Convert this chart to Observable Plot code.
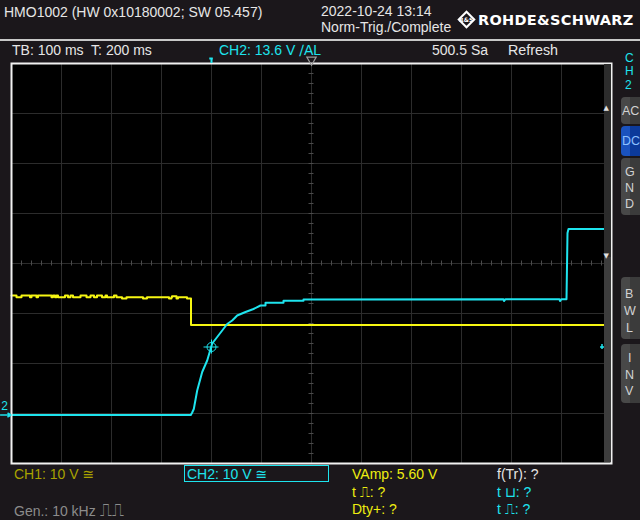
<!DOCTYPE html>
<html>
<head>
<meta charset="utf-8">
<script src="https://cdn.jsdelivr.net/npm/d3@7"></script>
<script src="https://cdn.jsdelivr.net/npm/@observablehq/plot@0.6"></script>
<style>
  html, body { margin: 0; padding: 0; background: #1b171b; }
  #scope { position: relative; width: 640px; height: 520px; background: #1b171b; overflow: hidden;
           font-family: "Liberation Sans", Arial, sans-serif; }
  #scope .t { position: absolute; white-space: pre; line-height: 1; }
  #scope .sym { font-family: "DejaVu Sans", sans-serif; }
  #scope .btn { position: absolute; left: 621px; width: 30px; border-radius: 4px 0 0 4px;
                background: linear-gradient(to right, #484848 0 9px, #3b3b3b 9px); color: #d2d2d2;
                font-size: 12.5px; line-height: 1; }
  #scope .btn span { position: absolute; white-space: pre; }
  #plotwrap { position: absolute; left: 0; top: 0; }
</style>
</head>
<body>
<div id="scope">
  <div id="plotwrap"></div>
</div>
<script>
// ---------- data (time in ms relative to trigger, voltage in V) ----------
const CH1_T = [-400,-390,-380,-363,-360,-350,-347,-320,-317,-313,-310,-307,-293,-287,-282,-277,-262,-250,-242,-235,-229,-219,-212,-209,-195,-190,-179,-170,-137,-129,-85,-80,-79,-70,-67,-49,-41,786];
const CH1_V = [23.9,23.56,23.9,23.56,23.9,23.56,23.9,23.56,23.9,23.56,23.9,23.56,23.9,23.56,23.9,23.56,23.9,23.56,23.9,23.56,23.9,23.56,23.9,23.56,23.9,23.56,23.3,23.56,23.3,23.56,23.3,23.56,23.76,23.3,23.56,23.3,18.0,18.0];

const CH2_T = [-400,-41.4,-38.6,-35.4,-28.6,-18.6,-8.6,1.4,11.4,21.4,31.4,41.4,51.4,68,84,98,108,108,144,144,184,184,584,585,588,696,697,700,710,712,714,786];
const CH2_V = [0,0,0.5,1.2,4.9,8.6,10.9,14.3,15.6,16.9,18.2,18.9,19.9,20.6,21.2,21.9,21.9,22.44,22.44,22.84,22.84,23.1,23.16,22.8,23.16,23.16,22.8,23.16,23.16,36.4,37.2,37.2];

const TRIGGER_T = 0;        // trigger position
const TRIGGER_LEVEL = 13.6; // CH2 trigger level, V
const TIME_DOMAIN = [-400, 800];   // 12 div x 100 ms
const VOLT_DOMAIN = [-9.7, 70.3];  // 8 div x 10 V
const GRID_T = [-300,-200,-100,0,100,200,300,400,500,600,700];
const GRID_V = [0.3,10.3,20.3,30.3,40.3,50.3,60.3];
const CENTER_T = 200, CENTER_V = 30.3;
const SUBTICK_T = d3.range(-400, 801, 20);
const SUBTICK_V = d3.range(-9.7, 70.31, 2);

const ch1 = CH1_T.map((t, i) => ({t, v: CH1_V[i]}));
const ch2 = CH2_T.map((t, i) => ({t, v: CH2_V[i]}));

const CYAN = "#1ee4ee", YELLOW = "#f6f612";

const plot = Plot.plot({
  width: 640, height: 520,
  marginLeft: 11, marginRight: 29, marginTop: 63, marginBottom: 57,
  x: {domain: TIME_DOMAIN, axis: null},
  y: {domain: VOLT_DOMAIN, axis: null},
  style: {background: "transparent", overflow: "visible"},
  marks: [
    Plot.frame({fill: "#000"}),
    Plot.ruleX(GRID_T, {stroke: "#2c2c2c", strokeWidth: 1}),
    Plot.ruleY(GRID_V, {stroke: "#2c2c2c", strokeWidth: 1}),
    Plot.ruleX(SUBTICK_T, {y1: CENTER_V - 0.5, y2: CENTER_V + 0.5, stroke: "#4a4a4a"}),
    Plot.ruleY(SUBTICK_V, {x1: CENTER_T - 5, x2: CENTER_T + 5, stroke: "#4a4a4a"}),
    Plot.line(ch1, {x: "t", y: "v", stroke: YELLOW, strokeWidth: 2, curve: "step-after"}),
    Plot.line(ch2, {x: "t", y: "v", stroke: CYAN, strokeWidth: 2, curve: "linear"}),
    // trigger crosshair
    Plot.dot([{t: TRIGGER_T, v: TRIGGER_LEVEL}], {x: "t", y: "v", r: 4.5, stroke: CYAN, strokeWidth: 1}),
    Plot.ruleY([TRIGGER_LEVEL], {x1: TRIGGER_T - 15, x2: TRIGGER_T + 15, stroke: CYAN, strokeWidth: 1}),
    Plot.ruleX([TRIGGER_T], {y1: TRIGGER_LEVEL - 1.4, y2: TRIGGER_LEVEL + 1.4, stroke: CYAN, strokeWidth: 1}),
    // trigger level marker at right edge
    Plot.ruleY([TRIGGER_LEVEL], {x1: 778, x2: 786, stroke: CYAN, strokeWidth: 1.5}),
    Plot.ruleX([781], {y1: TRIGGER_LEVEL - 0.5, y2: TRIGGER_LEVEL + 0.5, stroke: CYAN, strokeWidth: 1.5}),
    // frame
    Plot.frame({stroke: "#f2f2f2", strokeWidth: 2}),
    // trigger position marker (top)
    Plot.ruleY([VOLT_DOMAIN[1] + 1.0], {x1: TRIGGER_T - 3.5, x2: TRIGGER_T + 3.5, stroke: CYAN, strokeWidth: 2}),
    Plot.ruleX([TRIGGER_T], {y1: VOLT_DOMAIN[1], y2: VOLT_DOMAIN[1] + 1.0, stroke: CYAN, strokeWidth: 2}),
    // center time marker (top)
    Plot.dot([{t: CENTER_T}], {x: "t", y: () => VOLT_DOMAIN[1] + 0.75, symbol: "triangle", rotate: 180, r: 3.5, stroke: "#9a9a9a", strokeWidth: 1.2}),
    // CH2 ground marker at left
    Plot.arrow([{a: -422, b: -401}], {x1: "a", x2: "b", y1: () => 0, y2: () => 0, stroke: CYAN, strokeWidth: 1.5, headLength: 6}),
    Plot.text(["2"], {x: () => -414, y: () => 1.0, fill: CYAN, fontSize: 12, fontFamily: "Liberation Sans, sans-serif", lineAnchor: "bottom"})
  ]
});
document.getElementById("plotwrap").appendChild(plot);

// ---------- overlay texts ----------
const scope = document.getElementById("scope");
function txt(s, x, base, size, color, extra = {}) {
  const d = document.createElement("div");
  d.className = "t";
  d.innerHTML = s;
  d.style.left = x + "px";
  d.style.top = (base - 0.846 * size) + "px";
  d.style.fontSize = size + "px";
  d.style.color = color;
  Object.assign(d.style, extra);
  scope.appendChild(d);
  return d;
}
function box(x, y, w, h, style) {
  const d = document.createElement("div");
  d.style.position = "absolute";
  d.style.left = x + "px"; d.style.top = y + "px";
  d.style.width = w + "px"; d.style.height = h + "px";
  Object.assign(d.style, style);
  scope.appendChild(d);
  return d;
}
const WHITE = "#e6e6e6";
txt("HMO1002 (HW 0x10180002; SW 05.457)", 4, 17, 14, WHITE);
txt("2022-10-24 13:14", 321, 16, 14, WHITE);
txt("Norm-Trig./Complete", 321, 32, 14, WHITE);
txt("ROHDE&amp;SCHWARZ", 478, 25.5, 14.5, "#ffffff", {fontWeight: "bold", fontFamily: "'DejaVu Sans', sans-serif", letterSpacing: "0.3px"});
// R&S diamond logo
const logo = box(460, 13, 13, 13, {border: "2px solid #fff", transform: "rotate(45deg)", boxSizing: "border-box"});
const logoT = document.createElement("div");
logoT.textContent = "R&S";
Object.assign(logoT.style, {position: "absolute", left: "-3px", top: "0px", fontSize: "6px", color: "#fff", fontWeight: "bold", transform: "rotate(-45deg)", lineHeight: "9px", fontFamily: "'DejaVu Sans', sans-serif"});
logo.appendChild(logoT);
box(0, 39, 640, 2, {background: "#c8c8c8"});

txt("TB: 100 ms  T: 200 ms", 12, 55, 14, WHITE);
txt("CH2: 13.6 V <span class='sym'>∕</span>AL", 219, 55, 14, CYAN);
txt("500.5 Sa", 432, 55, 14, WHITE);
txt("Refresh", 508, 55, 14.3, WHITE);

// right side strip + arrows
box(604, 64, 6.5, 193, {background: "#2c2c2c"});
box(604, 257, 6.5, 205, {background: "#3d3d3d"});
txt("▲", 603.5, 111, 7, "#e0e0e0", {fontFamily: "'DejaVu Sans', sans-serif"});
txt("▼", 603.5, 259, 7, "#e0e0e0", {fontFamily: "'DejaVu Sans', sans-serif"});

// right panel
txt("C", 625, 62, 12, CYAN);
txt("H", 625, 75.5, 12, CYAN);
txt("2", 625, 89, 12, CYAN);
function btn(top, h, letters, dc) {
  const b = box(621, top, 30, h, {});
  b.className = "btn";
  if (dc) { b.style.background = "linear-gradient(to right, #1a52be 0 9px, #0c3a9a 9px)"; b.style.color = "#8cc0ff"; }
  letters.forEach(([s, x, y]) => {
    const sp = document.createElement("span");
    sp.textContent = s; sp.style.left = (x - 621) + "px"; sp.style.top = (y - top - 0.846 * 12.5) + "px";
    b.appendChild(sp);
  });
}
btn(97, 27, [["AC", 622, 116]]);
btn(126, 30, [["DC", 622, 146]], true);
btn(158, 57, [["G", 625, 177], ["N", 625, 193], ["D", 625, 209]]);
btn(277, 62, [["B", 625, 299], ["W", 624, 316], ["L", 626, 333]]);
btn(344, 59, [["I", 628, 363], ["N", 625, 380], ["V", 625, 396]]);

// bottom status
txt("CH1: 10 V <span class='sym'>≅</span>", 14, 479, 14, "#a8a200");
box(184, 465, 145, 17, {border: "1.5px solid " + CYAN, boxSizing: "border-box"});
txt("CH2: 10 V <span class='sym'>≅</span>", 187, 479, 14, CYAN);
const Y2 = "#eeee10";
txt("VAmp: 5.60 V", 352, 479, 14, Y2);
txt("t <span class='sym'>⎍</span>: ?", 352, 496.5, 14, Y2);
txt("Dty+: ?", 352, 514, 14, Y2);
txt("f(Tr): ?", 497, 479, 14, WHITE);
txt("t <span class='sym'>⊔</span>: ?", 497, 496.5, 14, CYAN);
txt("t <span class='sym'>⎍</span>: ?", 497, 514, 14, CYAN);
txt("Gen.: 10 kHz <span class='sym' style='font-size:17px'>⎍⎍</span>", 14, 514, 14, "#8c8c8c");
</script>
</body>
</html>
